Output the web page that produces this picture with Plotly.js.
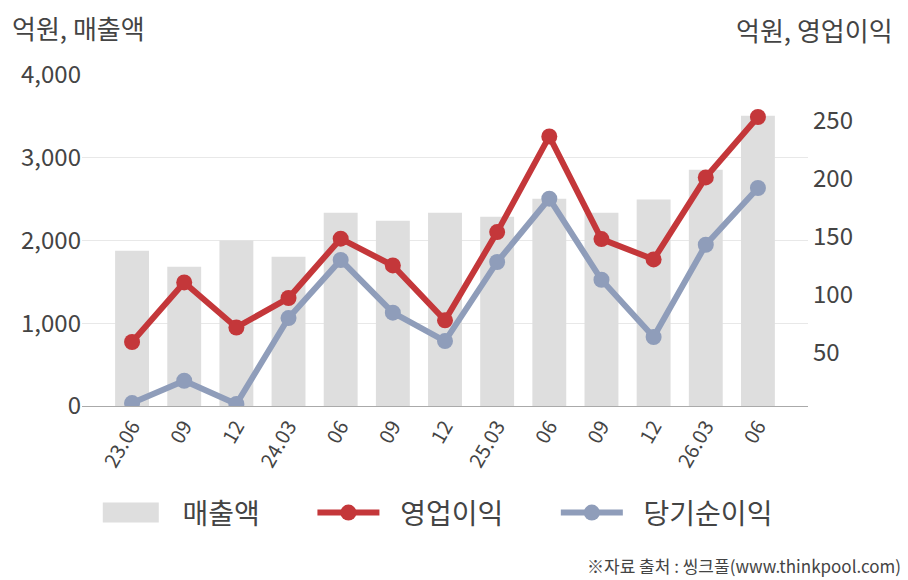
<!DOCTYPE html>
<html>
<head>
<meta charset="utf-8">
<script src="https://cdn.plot.ly/plotly-3.0.1.min.js"></script>
<style>
  html, body { margin: 0; padding: 0; background: #fff; }
  #chart { width: 908px; height: 580px; }
</style>
</head>
<body>
<div id="chart"></div>
<script>
/* global Plotly */
// quarters (YY.MM)
const quarters = ['23.06', '09', '12', '24.03', '06', '09', '12', '25.03', '06', '09', '12', '26.03', '06'];
// 억원
const sales = [1877, 1683, 2001, 1804, 2336, 2239, 2336, 2288, 2506, 2336, 2494, 2856, 3508];
const operatingProfit = [59.5, 110.7, 72.0, 97.3, 148.3, 125.3, 78.1, 154.0, 236.2, 148.0, 130.5, 201.0, 252.9];
const netProfit = [7.0, 26.2, 6.2, 80.1, 130.0, 84.7, 60.3, 128.3, 182.7, 113.0, 63.8, 143.1, 191.9];

const seriesNames = ['매출액', '영업이익', '당기순이익'];
const leftTitle = '억원, 매출액';
const rightTitle = '억원, 영업이익';
const sourceNote = '※자료 출처 : 씽크풀(www.thinkpool.com)';

(function () {
  const FONT = '"Noto Sans CJK KR", "Noto Sans", sans-serif';
  const TEXT = '#444';
  const idx = quarters.map(function (q, i) { return i; });

  // legend label padding: gap after the symbol, gap before the next entry
  const LEAD = '\u2002\u200a';
  const TRAIL = '\u2003\u2002\u2009';
  const legendName = function (i) {
    return LEAD + seriesNames[i] + (i < seriesNames.length - 1 ? TRAIL : '');
  };

  const traces = [
    {
      type: 'bar',
      name: legendName(0),
      x: idx,
      y: sales,
      marker: { color: '#dedede' },
      width: 0.65,
      yaxis: 'y'
    },
    {
      type: 'scatter',
      mode: 'lines+markers',
      name: legendName(1),
      x: idx,
      y: operatingProfit,
      line: { color: '#c4373a', width: 6 },
      marker: { color: '#c4373a', size: 16 },
      yaxis: 'y2'
    },
    {
      type: 'scatter',
      mode: 'lines+markers',
      name: legendName(2),
      x: idx,
      y: netProfit,
      line: { color: '#8f9dba', width: 6 },
      marker: { color: '#8f9dba', size: 16 },
      yaxis: 'y2'
    }
  ];

  const layout = {
    width: 908,
    height: 580,
    margin: { l: 82, r: 100, t: 75, b: 174 },
    paper_bgcolor: '#fff',
    plot_bgcolor: '#fff',
    font: { family: FONT, color: TEXT, size: 20 },
    showlegend: true,
    legend: {
      orientation: 'h',
      x: 0.488,
      xanchor: 'center',
      y: -0.323,
      yanchor: 'middle',
      font: { size: 28, color: TEXT },
      itemwidth: 62,
      traceorder: 'normal'
    },
    xaxis: {
      range: [-0.96, 12.96],
      tickmode: 'array',
      tickvals: idx,
      ticktext: quarters,
      tickangle: -60,
      tickfont: { size: 20, color: TEXT },
      showgrid: false,
      zeroline: false,
      showline: true,
      linecolor: '#aaa',
      linewidth: 1,
      ticks: ''
    },
    yaxis: {
      range: [0, 4000],
      tickvals: [0, 1000, 2000, 3000, 4000],
      tickformat: ',d',
      tickfont: { size: 24, color: TEXT },
      gridcolor: '#e8e8e8',
      zeroline: false,
      showline: false,
      ticks: ''
    },
    yaxis2: {
      overlaying: 'y',
      side: 'right',
      range: [4.5, 289],
      tickvals: [50, 100, 150, 200, 250],
      tickfont: { size: 24, color: TEXT },
      ticklabelstandoff: 4,
      showgrid: false,
      zeroline: false,
      showline: false,
      ticks: ''
    },
    bargap: 0.35,
    annotations: [
      {
        text: leftTitle, xref: 'paper', yref: 'paper',
        x: -0.099, y: 1.142, xanchor: 'left', yanchor: 'middle',
        showarrow: false, font: { size: 26, color: TEXT }
      },
      {
        text: rightTitle, xref: 'paper', yref: 'paper',
        x: 1.12, y: 1.136, xanchor: 'right', yanchor: 'middle',
        showarrow: false, font: { size: 26, color: TEXT }
      },
      {
        text: sourceNote, xref: 'paper', yref: 'paper',
        x: 1.131, y: -0.483, xanchor: 'right', yanchor: 'middle',
        showarrow: false, font: { size: 17, color: TEXT }
      }
    ]
  };

  Plotly.newPlot('chart', traces, layout, { staticPlot: true, displayModeBar: false }).then(function (gd) {
    // widen the bar swatch in the legend to a flat box like the original
    const first = gd.querySelector('.legend .traces .legendpoints path');
    if (first) {
      first.setAttribute('d', 'M28,10H-28V-10H28Z');
    }
  });
})();
</script>
</body>
</html>
